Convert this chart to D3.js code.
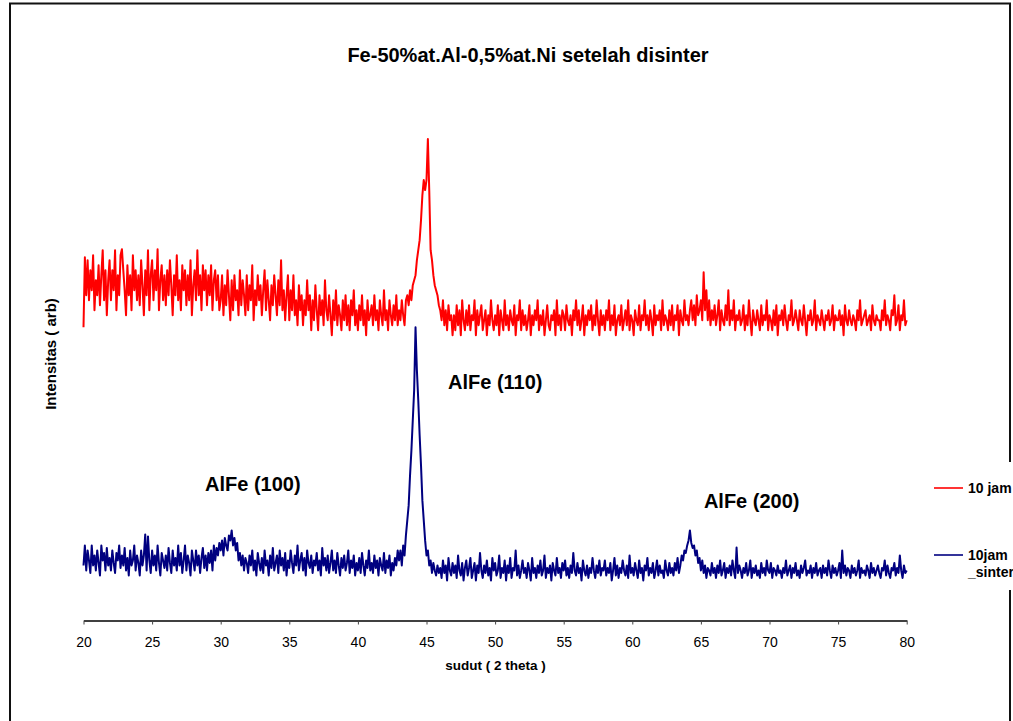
<!DOCTYPE html>
<html>
<head>
<meta charset="utf-8">
<script src="https://cdn.jsdelivr.net/npm/d3@7"></script>
<style>
  body { margin: 0; background: #fff; }
  text { font-family: "Liberation Sans", Arial, sans-serif; }
</style>
</head>
<body>
<svg></svg>
<script>
// 2 theta sampling: 20 .. 80 in steps of 0.1 deg
const thetaStart = 20, thetaStep = 0.1

// intensity (arb), one row per degree (x.0 .. x.9)
const sample10jam = [
  586, 726, 650, 720, 640, 700, 660, 730, 620, 680,
  650, 710, 630, 690, 740, 640, 700, 610, 680, 720,
  640, 700, 660, 740, 620, 690, 650, 730, 742, 700,
  660, 610, 710, 650, 690, 620, 730, 660, 700, 640,
  690, 630, 720, 670, 610, 700, 650, 740, 620, 690,
  720, 640, 700, 660, 742, 620, 680, 710, 640, 690,
  630, 700, 650, 720, 670, 610, 690, 650, 730, 640,
  680, 620, 710, 660, 700, 630, 690, 640, 720, 610,
  670, 700, 640, 740, 650, 690, 620, 710, 660, 700,
  630, 690, 650, 710, 620, 680, 700, 640, 690, 620,
  640, 690, 610, 670, 630, 700, 650, 600, 680, 620,
  690, 640, 660, 610, 700, 630, 680, 650, 610, 690,
  620, 670, 640, 710, 600, 660, 630, 690, 640, 670,
  610, 660, 700, 620, 680, 640, 600, 670, 630, 690,
  650, 610, 680, 630, 720, 620, 660, 600, 650, 690,
  600, 660, 620, 690, 610, 640, 590, 670, 620, 650,
  590, 640, 610, 680, 620, 650, 580, 640, 600, 670,
  620, 580, 650, 610, 640, 590, 680, 620, 600, 650,
  610, 570, 640, 600, 660, 590, 630, 610, 580, 640,
  600, 650, 590, 630, 580, 640, 610, 660, 590, 620,
  580, 630, 600, 650, 590, 620, 570, 640, 600, 610,
  630, 590, 650, 600, 620, 580, 640, 610, 590, 660,
  600, 620, 580, 640, 610, 590, 630, 600, 650, 590,
  620, 600, 640, 610, 590, 640, 650, 630, 660, 640,
  670, 680, 690, 720, 740, 760, 800, 850, 880, 860,
  880, 962, 860, 740, 720, 690, 670, 660, 650, 630,
  620, 600, 640, 590, 620, 580, 630, 600, 610, 570,
  610, 580, 630, 590, 620, 570, 640, 600, 580, 620,
  590, 630, 580, 610, 600, 640, 570, 620, 590, 610,
  630, 580, 600, 620, 570, 610, 590, 640, 600, 580,
  610, 590, 630, 570, 620, 600, 580, 640, 590, 610,
  580, 620, 600, 590, 630, 570, 610, 600, 640, 580,
  620, 590, 610, 580, 600, 630, 570, 610, 590, 620,
  600, 640, 580, 610, 590, 620, 570, 600, 630, 590,
  580, 610, 600, 620, 570, 640, 590, 610, 580, 620,
  610, 580, 630, 600, 590, 610, 570, 620, 600, 640,
  590, 620, 580, 600, 630, 570, 610, 590, 620, 600,
  630, 580, 610, 590, 640, 600, 570, 620, 590, 610,
  580, 620, 600, 640, 580, 610, 590, 630, 570, 600,
  610, 590, 630, 580, 600, 620, 590, 640, 580, 610,
  600, 570, 620, 600, 590, 630, 580, 610, 600, 640,
  590, 610, 580, 620, 600, 570, 630, 590, 610, 600,
  620, 580, 640, 590, 610, 600, 580, 620, 590, 630,
  580, 610, 600, 630, 570, 620, 600, 590, 640, 600,
  610, 590, 620, 640, 600, 630, 590, 650, 610, 620,
  640, 600, 696, 620, 660, 600, 640, 590, 620, 600,
  630, 590, 610, 640, 580, 620, 600, 590, 630, 600,
  660, 590, 620, 600, 640, 580, 610, 600, 620, 590,
  600, 630, 580, 610, 590, 640, 600, 570, 620, 600,
  590, 620, 600, 580, 630, 590, 610, 600, 640, 580,
  610, 600, 580, 620, 590, 630, 570, 610, 600, 620,
  590, 630, 600, 580, 610, 600, 640, 590, 600, 620,
  600, 580, 620, 600, 590, 630, 600, 570, 610, 600,
  620, 590, 600, 640, 580, 610, 600, 590, 620, 600,
  580, 610, 600, 620, 590, 600, 630, 580, 610, 600,
  600, 620, 590, 610, 570, 630, 600, 590, 620, 600,
  590, 610, 600, 580, 620, 600, 640, 590, 600, 610,
  620, 590, 600, 610, 580, 630, 600, 590, 610, 600,
  600, 580, 620, 600, 640, 590, 610, 600, 580, 620,
  610, 650, 590, 600, 630, 580, 610, 600, 640, 590,
  600
]

const sample10jamSinter = [
  110, 150, 100, 140, 120, 95, 150, 110, 130, 100,
  140, 115, 90, 150, 120, 135, 100, 145, 110, 125,
  100, 140, 115, 95, 135, 120, 150, 105, 130, 110,
  145, 100, 125, 90, 140, 110, 120, 150, 100, 130,
  115, 90, 140, 110, 130, 172, 100, 168, 120, 95,
  140, 110, 130, 100, 150, 115, 90, 135, 120, 105,
  130, 100, 145, 115, 95, 140, 110, 125, 100, 150,
  110, 135, 95, 120, 150, 100, 130, 115, 90, 140,
  120, 100, 140, 110, 130, 95, 125, 145, 105, 130,
  100, 135, 115, 140, 100, 150, 120, 145, 130, 155,
  140, 160, 130, 165, 150, 140, 170, 160, 180, 150,
  165, 140, 155, 120, 135, 110, 130, 100, 125, 115,
  95, 130, 110, 140, 100, 120, 90, 135, 115, 100,
  125, 95, 140, 110, 120, 90, 130, 105, 145, 100,
  115, 130, 95, 140, 110, 125, 100, 135, 90, 120,
  105, 140, 115, 95, 130, 110, 150, 100, 120, 135,
  100, 125, 90, 140, 115, 105, 130, 95, 120, 110,
  135, 100, 120, 90, 145, 110, 125, 100, 130, 95,
  115, 140, 100, 120, 95, 135, 110, 90, 125, 105,
  130, 100, 115, 140, 95, 120, 105, 130, 90, 115,
  100, 125, 95, 135, 110, 90, 120, 105, 140, 100,
  115, 95, 130, 105, 120, 90, 125, 110, 100, 135,
  95, 120, 105, 130, 90, 115, 100, 125, 110, 140,
  120, 140, 110, 150, 130, 170, 200, 230, 290, 340,
  400, 460, 586, 500, 440, 370, 310, 240, 200, 160,
  130, 140, 110, 120, 95, 115, 100, 90, 110, 95,
  105, 85, 120, 95, 110, 80, 125, 100, 90, 115,
  95, 110, 85, 130, 100, 90, 115, 80, 105, 120,
  90, 105, 125, 85, 100, 115, 80, 110, 95, 135,
  100, 85, 110, 95, 120, 90, 105, 80, 125, 100,
  115, 90, 100, 130, 85, 105, 95, 120, 80, 110,
  95, 125, 85, 105, 100, 140, 90, 110, 85, 100,
  120, 95, 105, 85, 115, 100, 80, 125, 95, 105,
  85, 110, 95, 120, 90, 100, 130, 85, 105, 95,
  110, 80, 115, 100, 90, 125, 95, 105, 85, 115,
  100, 120, 90, 105, 85, 110, 95, 135, 100, 90,
  115, 95, 105, 80, 120, 100, 90, 110, 85, 105,
  95, 125, 100, 85, 110, 95, 120, 90, 105, 100,
  120, 90, 105, 95, 115, 80, 100, 125, 90, 110,
  85, 105, 95, 120, 100, 90, 110, 85, 130, 95,
  105, 90, 115, 100, 85, 120, 95, 105, 80, 110,
  100, 125, 90, 105, 95, 115, 85, 100, 120, 90,
  110, 95, 100, 85, 120, 100, 90, 115, 95, 105,
  90, 115, 100, 125, 95, 110, 130, 120, 140, 135,
  150, 160, 180, 155, 145, 150, 130, 140, 115, 125,
  100, 120, 95, 110, 85, 105, 100, 90, 115, 95,
  105, 85, 110, 95, 120, 90, 100, 115, 85, 105,
  95, 110, 90, 120, 100, 85, 146, 95, 110, 100,
  85, 105, 95, 115, 90, 100, 120, 85, 105, 95,
  110, 90, 100, 85, 115, 95, 105, 90, 120, 100,
  95, 115, 85, 105, 100, 90, 110, 95, 100, 85,
  105, 95, 120, 90, 100, 110, 85, 105, 95, 115,
  90, 100, 85, 110, 95, 105, 120, 90, 100, 95,
  110, 85, 105, 95, 115, 90, 100, 105, 85, 110,
  95, 105, 90, 120, 100, 85, 110, 95, 105, 90,
  100, 115, 85, 140, 95, 110, 90, 105, 100, 85,
  110, 95, 105, 90, 100, 120, 85, 105, 95, 100,
  90, 110, 100, 85, 115, 95, 105, 90, 100, 110,
  95, 85, 105, 100, 120, 90, 110, 95, 85, 105,
  100, 115, 90, 105, 95, 130, 100, 85, 110, 95,
  100
]

const xTicks = [20, 25, 30, 35, 40, 45, 50, 55, 60, 65, 70, 75, 80]
const seriesNames = ['10 jam', '10jam _sinter']
const seriesColors = ['#FF0000', '#000080']

// peak labels: [text, 2theta (left edge), intensity]
const peakLabels = [
  ['AlFe (110)', 46.57, 476],
  ['AlFe (100)', 28.86, 274],
  ['AlFe (200)', 65.22, 240]
]

const
    svgWidth = 1013,
    svgHeight = 721,
    LEFT = 83.5,
    RIGHT = 906.7,
    TOP = 70,
    BOTTOM = 620.5

let svg = d3.select('svg')
    .attr('width', svgWidth)
    .attr('height', svgHeight)

svg.append('rect')
    .attr('width', svgWidth).attr('height', svgHeight)
    .attr('fill', '#fff')

// chart border
svg.append('rect')
    .attr('x', 10).attr('y', 3.5)
    .attr('width', 1000).attr('height', 740)
    .attr('fill', 'none')
    .attr('stroke', '#111')
    .attr('stroke-width', 2)

let x = d3.scaleLinear().domain([20, 80]).range([LEFT, RIGHT])
let y = d3.scaleLinear().domain([0, 1100]).range([BOTTOM, TOP])

let line = d3.line()
    .x((d, i) => x(thetaStart + i * thetaStep))
    .y(d => y(d))

;[sample10jam, sample10jamSinter].forEach((s, k) => {
  svg.append('path')
      .datum(s)
      .attr('d', line)
      .attr('fill', 'none')
      .attr('stroke', seriesColors[k])
      .attr('stroke-width', 2)
      .attr('stroke-linejoin', 'round')
})

// x axis
let xAxis = svg.append('g')
    .attr('transform', `translate(0,${BOTTOM})`)
    .call(d3.axisBottom(x).tickValues(xTicks).tickSize(4).tickPadding(12.5).tickSizeOuter(0))
xAxis.select('.domain').attr('stroke', '#000').attr('stroke-width', 1.3)
xAxis.selectAll('.tick line').attr('stroke', '#444')
xAxis.selectAll('.tick text')
    .attr('font-size', 14)
    .attr('font-family', '"Liberation Sans", Arial, sans-serif')
    .attr('fill', '#000')

// titles
svg.append('text')
    .text('Fe-50%at.Al-0,5%at.Ni setelah disinter')
    .attr('x', 528).attr('y', 61.5)
    .attr('text-anchor', 'middle')
    .attr('font-size', 20).attr('font-weight', 'bold')

svg.append('text')
    .text('sudut ( 2 theta )')
    .attr('x', 495.5).attr('y', 669.5)
    .attr('text-anchor', 'middle')
    .attr('font-size', 13.5).attr('font-weight', 'bold')

svg.append('text')
    .text('Intensitas ( arb)')
    .attr('transform', 'translate(56,354) rotate(-90)')
    .attr('text-anchor', 'middle')
    .attr('font-size', 15).attr('font-weight', 'bold')

// peak labels
peakLabels.forEach(p => {
  svg.append('text')
      .text(p[0])
      .attr('x', x(p[1])).attr('y', y(p[2]))
      .attr('dy', '0.36em')
      .attr('font-size', 20).attr('font-weight', 'bold')
})

// legend
let legend = svg.append('g')
legend.append('rect')
    .attr('x', 926).attr('y', 462)
    .attr('width', 90).attr('height', 128)
    .attr('fill', '#fff')

const legendY = [488, 555]
seriesNames.forEach((name, k) => {
  legend.append('line')
      .attr('x1', 934).attr('x2', 963)
      .attr('y1', legendY[k]).attr('y2', legendY[k])
      .attr('stroke', seriesColors[k])
      .attr('stroke-width', 1.6)
  let t = legend.append('text')
      .attr('x', 968).attr('y', legendY[k])
      .attr('font-size', 14).attr('font-weight', 'bold')
  const parts = k === 0 ? [name] : name.split(' ')
  parts.forEach((part, j) => {
    t.append('tspan').attr('x', 968).attr('dy', j === 0 ? '0.36em' : '1.2em').text(part)
  })
})
</script>
</body>
</html>
